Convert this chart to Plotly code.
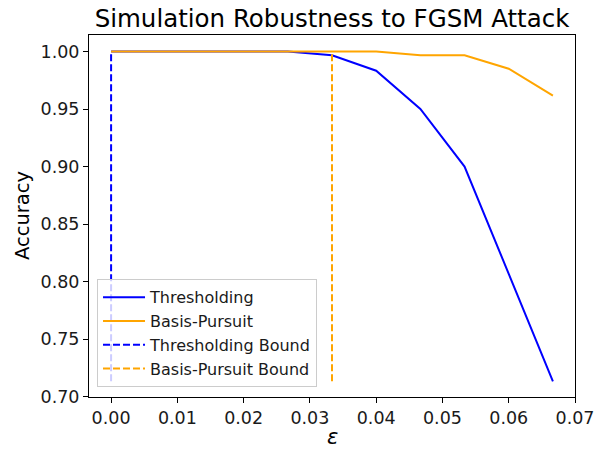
import plotly.graph_objects as go

eps = [0, 1/150, 2/150, 3/150, 4/150, 5/150, 6/150, 7/150, 8/150, 9/150, 10/150]
thresholding = [1.0, 1.0, 1.0, 1.0, 1.0, 0.9967, 0.9833, 0.95, 0.90, 0.8067, 0.7133]
basis_pursuit = [1.0, 1.0, 1.0, 1.0, 1.0, 1.0, 1.0, 0.9967, 0.9967, 0.985, 0.9617]
thr_bound = 0.0
bp_bound = 1/30
xticks = [0, 0.01, 0.02, 0.03, 0.04, 0.05, 0.06, 0.07]
xticklabels = ["0.00", "0.01", "0.02", "0.03", "0.04", "0.05", "0.06", "0.07"]
yticks = [0.70, 0.75, 0.80, 0.85, 0.90, 0.95, 1.00]
yticklabels = ["0.70", "0.75", "0.80", "0.85", "0.90", "0.95", "1.00"]

ymin = min(thresholding + basis_pursuit)
ymax = max(thresholding + basis_pursuit)

fig = go.Figure()
fig.add_trace(go.Scatter(x=eps, y=thresholding, mode="lines", name="Thresholding",
                         line=dict(color="blue", width=2)))
fig.add_trace(go.Scatter(x=eps, y=basis_pursuit, mode="lines", name="Basis-Pursuit",
                         line=dict(color="orange", width=2)))
fig.add_trace(go.Scatter(x=[thr_bound, thr_bound], y=[ymin, ymax], mode="lines",
                         name="Thresholding Bound",
                         line=dict(color="blue", width=2, dash="7px,3px")))
fig.add_trace(go.Scatter(x=[bp_bound, bp_bound], y=[ymin, ymax], mode="lines",
                         name="Basis-Pursuit Bound",
                         line=dict(color="orange", width=2, dash="7px,3px")))

font = "DejaVu Sans"
axis_common = dict(showline=True, linecolor="black", linewidth=1, mirror=True,
                   showgrid=False, zeroline=False, ticks="outside", ticklen=5,
                   tickwidth=1, tickcolor="black", automargin=False,
                   tickfont=dict(family=font, size=17.5, color="#1a1a1a"))

fig.update_layout(
    width=604, height=450,
    margin=dict(l=89, r=29, t=35, b=53),
    paper_bgcolor="white", plot_bgcolor="white",
    title=dict(text="Simulation Robustness to FGSM Attack", x=0.5, xanchor="center",
               xref="paper", y=1 - 18.5 / 450, yref="container", yanchor="middle",
               font=dict(family=font, size=24.5, color="black")),
    xaxis=dict(range=[-0.0033333, 0.07], tickvals=xticks, ticktext=xticklabels,
               **axis_common),
    yaxis=dict(range=[0.69967, 1.01433], tickvals=yticks, ticktext=yticklabels,
               **axis_common),
    legend=dict(x=0.0165, y=0.027, xanchor="left", yanchor="bottom",
                bgcolor="rgba(255,255,255,0.8)", bordercolor="#cccccc", borderwidth=1,
                font=dict(family=font, size=16, color="#1a1a1a"),
                tracegroupgap=0, itemwidth=42),
    showlegend=True,
    annotations=[
        dict(text="Accuracy", textangle=-90, xref="paper", yref="paper",
             x=(22 - 89) / 486, y=0.5, xanchor="center", yanchor="middle",
             showarrow=False, font=dict(family=font, size=19.5, color="black")),
        dict(text="<i>ε</i>", xref="paper", yref="paper",
             x=0.5, y=(397 - 437) / 362, xanchor="center", yanchor="middle",
             showarrow=False, font=dict(family=font, size=21, color="black")),
    ],
)

fig.write_html("out.html", config={"displayModeBar": False},
               post_script="document.body.style.margin='0';document.body.style.padding='0';")
